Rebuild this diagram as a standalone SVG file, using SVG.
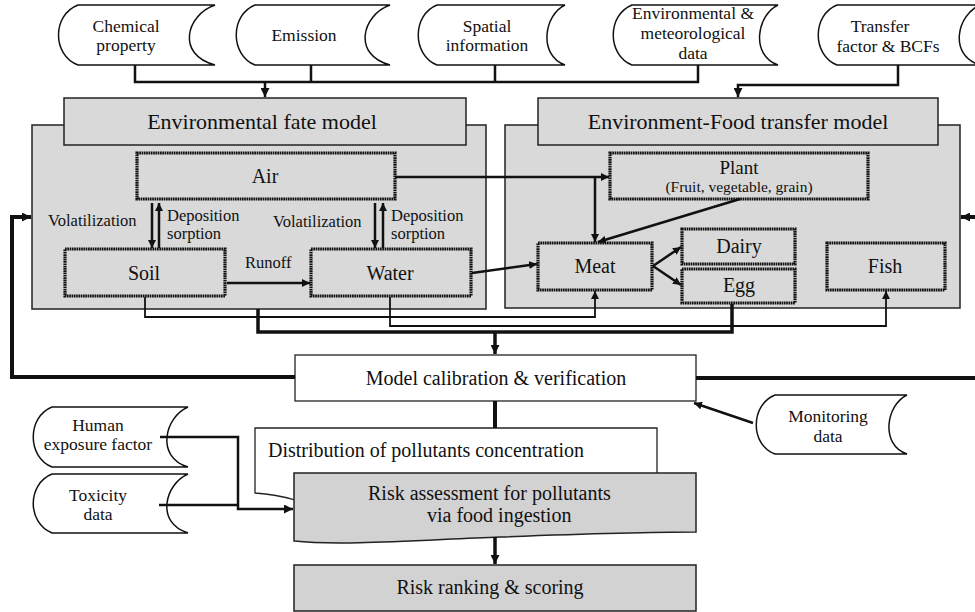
<svg xmlns="http://www.w3.org/2000/svg" width="975" height="612" viewBox="0 0 975 612">
<style>
text{font-family:"Liberation Serif","Times New Roman",serif;fill:#111;}
.t18{font-size:17.5px;text-anchor:middle;}
.t17{font-size:16.5px;}
.t20{font-size:20px;text-anchor:middle;}
.t22{font-size:22px;text-anchor:middle;}
.data{fill:#fff;stroke:#111;stroke-width:1.5;}
.gray{fill:#d9d9d9;stroke:#222;stroke-width:1.5;}
.white{fill:#fff;stroke:#222;stroke-width:1.3;}
.dot{fill:#d9d9d9;stroke:#111;stroke-width:3.2;stroke-dasharray:1.7 0.6;}
.c{fill:none;stroke:#111;stroke-width:2.5;}
.c2{fill:none;stroke:#111;stroke-width:1.8;}
.c4{fill:none;stroke:#111;stroke-width:4;}
</style>
<defs>
<marker id="ah" viewBox="0 0 10 10" refX="10" refY="5" markerWidth="9" markerHeight="9" markerUnits="userSpaceOnUse" orient="auto"><path d="M0,0 L10,5 L0,10 z" fill="#111"/></marker>
<marker id="ahs" viewBox="0 0 10 10" refX="10" refY="5" markerWidth="8" markerHeight="8" markerUnits="userSpaceOnUse" orient="auto"><path d="M0,0 L10,5 L0,10 z" fill="#111"/></marker>
</defs>

<!-- input data nodes -->
<g id="chemical-property">
<path class="data" d="M78,5 H215 C186,15 176,55 215,65 H78 C52,55 52,15 78,5 Z"/>
<text class="t18" x="126" y="32">Chemical</text>
<text class="t18" x="126" y="51">property</text>
</g>
<g id="emission">
<path class="data" d="M255,5 H390 C362,15 352,55 390,65 H255 C230,55 230,15 255,5 Z"/>
<text class="t18" x="304" y="41">Emission</text>
</g>
<g id="spatial-information">
<path class="data" d="M437,5 H565 C544,15 538,55 565,65 H437 C412,55 412,15 437,5 Z"/>
<text class="t18" x="487" y="32">Spatial</text>
<text class="t18" x="487" y="51">information</text>
</g>
<g id="env-met-data">
<path class="data" d="M632,5 H778 C757,15 750,55 778,65 H632 C607,55 607,15 632,5 Z"/>
<text class="t18" x="693" y="19">Environmental &amp;</text>
<text class="t18" x="693" y="39">meteorological</text>
<text class="t18" x="693" y="59">data</text>
</g>
<g id="transfer-factor">
<path class="data" d="M837,5 H980 C957,15 948,55 980,65 H837 C812,55 812,15 837,5 Z"/>
<text class="t18" x="880" y="32">Transfer</text>
<text class="t18" x="888" y="52">factor &amp; BCFs</text>
</g>

<!-- model containers -->
<g id="environmental-fate-model">
<rect class="gray" x="32" y="125" width="454" height="184"/>
<rect class="gray" x="64" y="98" width="402" height="47"/>
<text class="t22" x="262" y="129">Environmental fate model</text>
</g>
<g id="environment-food-transfer-model">
<rect class="gray" x="505" y="125" width="455" height="183"/>
<rect class="gray" x="538" y="98" width="400" height="47"/>
<text class="t22" x="738" y="129">Environment-Food transfer model</text>
</g>

<g id="air"><rect class="dot" x="137" y="153" width="258" height="46"/><text class="t20" x="265" y="183">Air</text></g>
<g id="soil"><rect class="dot" x="65" y="249" width="160" height="47"/><text class="t20" x="144" y="280">Soil</text></g>
<g id="water"><rect class="dot" x="311" y="249" width="160" height="47"/><text class="t20" x="390" y="280">Water</text></g>
<g id="plant"><rect class="dot" x="610" y="153" width="258" height="46"/><text class="t20" x="739" y="174" style="font-size:19px">Plant</text><text x="739" y="192" style="text-anchor:middle;font-size:15.5px">(Fruit, vegetable, grain)</text></g>
<g id="meat"><rect class="dot" x="538" y="243" width="114" height="47"/><text class="t20" x="595" y="273">Meat</text></g>
<g id="dairy"><rect class="dot" x="682" y="229" width="113" height="35"/><text class="t20" x="739" y="253">Dairy</text></g>
<g id="egg"><rect class="dot" x="682" y="269" width="113" height="34"/><text class="t20" x="739" y="292">Egg</text></g>
<g id="fish"><rect class="dot" x="827" y="243" width="118" height="47"/><text class="t20" x="885" y="273">Fish</text></g>

<!-- labels inside fate model -->
<g id="process-labels">
<text class="t17" x="48" y="226">Volatilization</text>
<text class="t17" x="167" y="221">Deposition</text>
<text class="t17" x="167" y="239">sorption</text>
<text class="t17" x="273" y="227">Volatilization</text>
<text class="t17" x="391" y="221">Deposition</text>
<text class="t17" x="391" y="239">sorption</text>
<text class="t17" x="245" y="268">Runoff</text>
</g>

<!-- lower nodes -->
<g id="model-calibration">
<rect class="white" x="295" y="355" width="401" height="46"/>
<text class="t20" x="496" y="385">Model calibration &amp; verification</text>
</g>
<g id="monitoring-data">
<path class="data" d="M775,395 H907 C886,405 880,445 907,454 H775 C750,445 750,405 775,395 Z"/>
<text class="t18" x="828" y="422">Monitoring</text>
<text class="t18" x="828" y="442">data</text>
</g>
<g id="distribution">
<path class="white" d="M255,428 H657 V500 H295 C285,497 270,494 255,493 Z"/>
<text class="t20" x="268" y="457" style="text-anchor:start">Distribution of pollutants concentration</text>
</g>
<g id="human-exposure-factor">
<path class="data" d="M52,407 H188 C165,417 155,457 188,467 H52 C27,457 27,417 52,407 Z"/>
<text class="t18" x="98" y="431">Human</text>
<text class="t18" x="98" y="450">exposure factor</text>
</g>
<g id="toxicity-data">
<path class="data" d="M52,474 H188 C165,484 155,523 188,533 H52 C27,523 27,484 52,474 Z"/>
<text class="t18" x="98" y="501">Toxicity</text>
<text class="t18" x="98" y="520">data</text>
</g>
<g id="risk-assessment">
<path class="gray" style="fill:#d2d2d2" d="M294,473 H696 V532 C640,532 580,534 500,537 C420,540 340,546 294,541 Z"/>
<text class="t20" x="368" y="500" style="text-anchor:start">Risk assessment for pollutants</text>
<text class="t20" x="427" y="522" style="text-anchor:start">via food ingestion</text>
</g>
<g id="risk-ranking">
<rect class="gray" style="fill:#d2d2d2" x="294" y="565" width="402" height="46"/>
<text class="t20" x="490" y="594">Risk ranking &amp; scoring</text>
</g>

<!-- connectors -->
<g id="connectors">
<path class="c" d="M135,65 V82 H698 V65 M311,65 V82 M495,65 V82"/>
<path class="c" d="M265,82 V97" marker-end="url(#ah)"/>
<path class="c" d="M898,65 V85 H738 V97" marker-end="url(#ah)"/>

<path class="c" d="M152,203 V248" marker-end="url(#ahs)"/>
<path class="c" d="M159,248 V203" marker-end="url(#ahs)"/>
<path class="c" d="M375,203 V248" marker-end="url(#ahs)"/>
<path class="c" d="M383,248 V203" marker-end="url(#ahs)"/>
<path class="c" d="M227,283 H310" marker-end="url(#ahs)"/>

<path class="c" d="M395,177 H609" marker-end="url(#ahs)"/>
<path class="c" d="M595,177 V242" marker-end="url(#ahs)"/>
<path class="c" d="M740,199 L598,242" marker-end="url(#ahs)"/>
<path class="c" d="M472,273 L537,264" marker-end="url(#ahs)"/>
<path class="c" d="M653,266 L681,247" marker-end="url(#ahs)"/>
<path class="c" d="M653,266 L681,285" marker-end="url(#ahs)"/>

<path class="c2" d="M145,297 V317 H595 V291" marker-end="url(#ahs)"/>
<path class="c2" d="M390,297 V326 H886 V291" marker-end="url(#ahs)"/>
<path class="c4" style="stroke-width:3.5" d="M258,309 V332 H732 V304"/>
<path class="c4" style="stroke-width:3.5" d="M495,332 V354" marker-end="url(#ah)"/>

<path class="c4" d="M295,377 H12 V217 H31" marker-end="url(#ah)"/>
<path class="c4" d="M696,378 H985 V217 H961" marker-end="url(#ah)"/>
<path class="c4" d="M495,401 V428"/>
<path class="c" d="M753,423 L694,403" marker-end="url(#ahs)"/>

<path class="c" d="M160,437 H238 V509 H293" marker-end="url(#ah)"/>
<path class="c" d="M159,505 H238"/>
<path class="c4" style="stroke-width:3.5" d="M495,537 V564" marker-end="url(#ah)"/>
</g>
</svg>
